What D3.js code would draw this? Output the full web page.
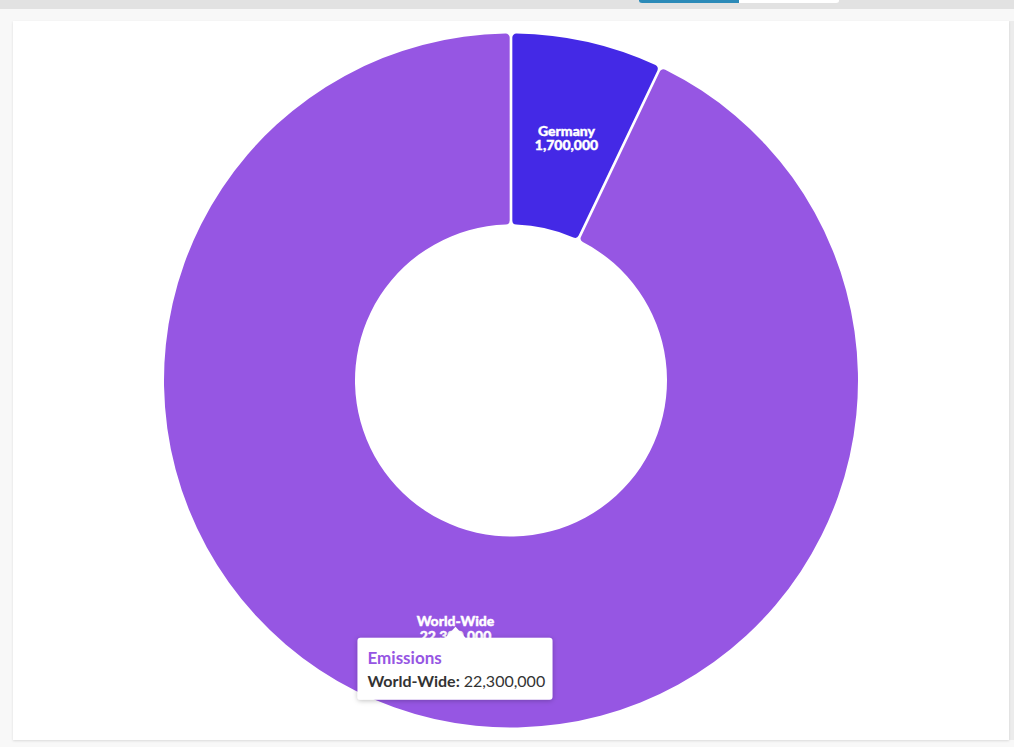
<!DOCTYPE html>
<html>
<head>
<meta charset="utf-8">
<script src="https://cdn.jsdelivr.net/npm/d3@7"></script>
<style>
  html, body { margin: 0; padding: 0; background: #f8f8f8; overflow: hidden; }
  svg { display: block; }
</style>
</head>
<body>
<svg id="chart" width="1014" height="747"></svg>
<script>
// Emissions by region
const categories = ["Germany", "World-Wide"];
const values = [1700000, 22300000];
const colors = ["#4429e6", "#9656e3"];
const seriesName = "Emissions";
const tooltipIndex = 1;

const W = 1014, H = 747;
const svg = d3.select("#chart");
const fmt = d3.format(",");
const FONT = "Lato, 'Noto Sans', sans-serif";

// page chrome: top bar with tab switcher, card
svg.append("rect").attr("x", 0).attr("y", 0).attr("width", W).attr("height", 9).attr("fill", "#e2e2e2");
svg.append("path")
  .attr("d", "M639,0 H839 V0.5 Q839,3 836,3 H642 Q639,3 639,0.5 Z")
  .attr("fill", "#ffffff");
svg.append("path")
  .attr("d", "M639,0 H739 V3 H642 Q639,3 639,0.5 Z")
  .attr("fill", "#2b8ab8");

const defs = svg.append("defs");
const cardShadow = defs.append("filter").attr("id", "cardShadow")
  .attr("x", "-5%").attr("y", "-5%").attr("width", "110%").attr("height", "110%");
cardShadow.append("feDropShadow").attr("dx", 0).attr("dy", 1).attr("stdDeviation", 1)
  .attr("flood-color", "#000").attr("flood-opacity", 0.12);

svg.append("rect").attr("x", 1009).attr("y", 21).attr("width", 5).attr("height", 719).attr("fill", "#ececec");
svg.append("rect")
  .attr("x", 13).attr("y", 21).attr("width", 996).attr("height", 719)
  .attr("fill", "#ffffff").attr("filter", "url(#cardShadow)");

// donut
const cx = 511, cy = 380.5;
const outerR = 347, innerR = 156;

const pie = d3.pie().sort(null).value(d => d.value);
const arcs = pie(categories.map((c, i) => ({ name: c, value: values[i], color: colors[i] })));

const arc = d3.arc()
  .innerRadius(innerR)
  .outerRadius(outerR)
  .cornerRadius(4)
  .padAngle(0.007);

const g = svg.append("g").attr("transform", `translate(${cx},${cy})`);

g.selectAll("path.slice")
  .data(arcs)
  .join("path")
  .attr("class", "slice")
  .attr("d", arc)
  .attr("fill", d => d.data.color);

const labelArc = d3.arc().innerRadius(innerR).outerRadius(outerR);

const labels = g.selectAll("text.lbl")
  .data(arcs)
  .join("text")
  .attr("class", "lbl")
  .attr("transform", d => {
    const [x, y] = labelArc.centroid(d);
    return `translate(${x},${y})`;
  })
  .attr("text-anchor", "middle")
  .attr("fill", "#ffffff")
  .attr("stroke", "#ffffff")
  .attr("stroke-width", 0.4)
  .attr("font-family", FONT)
  .attr("font-weight", 900)
  .attr("font-size", 14);

labels.append("tspan").attr("x", 0).attr("y", 0.5).text(d => d.data.name);
labels.append("tspan").attr("x", 0).attr("y", 15).text(d => fmt(d.data.value));

// tooltip for the hovered slice
const tipFilter = defs.append("filter").attr("id", "tipShadow")
  .attr("x", "-20%").attr("y", "-30%").attr("width", "140%").attr("height", "160%");
tipFilter.append("feDropShadow").attr("dx", 0).attr("dy", 1).attr("stdDeviation", 2.5)
  .attr("flood-color", "#000").attr("flood-opacity", 0.25);

const hovered = arcs[tooltipIndex];
const [tx, ty] = labelArc.centroid(hovered);
const ax = cx + tx, ay = cy + ty + 1;
const boxW = 195, boxH = 62, boxX = ax - 98, boxY = ay + 11;

const tip = svg.append("g").attr("filter", "url(#tipShadow)");
tip.append("path")
  .attr("d", `M${boxX + 3},${boxY} H${ax - 10} L${ax},${ay} L${ax + 10},${boxY} H${boxX + boxW - 3}
    Q${boxX + boxW},${boxY} ${boxX + boxW},${boxY + 3} V${boxY + boxH - 3}
    Q${boxX + boxW},${boxY + boxH} ${boxX + boxW - 3},${boxY + boxH} H${boxX + 3}
    Q${boxX},${boxY + boxH} ${boxX},${boxY + boxH - 3} V${boxY + 3} Q${boxX},${boxY} ${boxX + 3},${boxY} Z`)
  .attr("fill", "#ffffff");

svg.append("text")
  .attr("x", boxX + 10).attr("y", boxY + 26)
  .attr("fill", hovered.data.color)
  .attr("font-family", FONT).attr("font-weight", "bold").attr("font-size", 17)
  .text(seriesName);

const line = svg.append("text")
  .attr("x", boxX + 10).attr("y", boxY + 49)
  .attr("fill", "#333333")
  .attr("font-family", FONT).attr("font-size", 16);
line.append("tspan").attr("font-weight", "bold").text(hovered.data.name + ": ");
line.append("tspan").text(fmt(hovered.data.value));
</script>
</body>
</html>
